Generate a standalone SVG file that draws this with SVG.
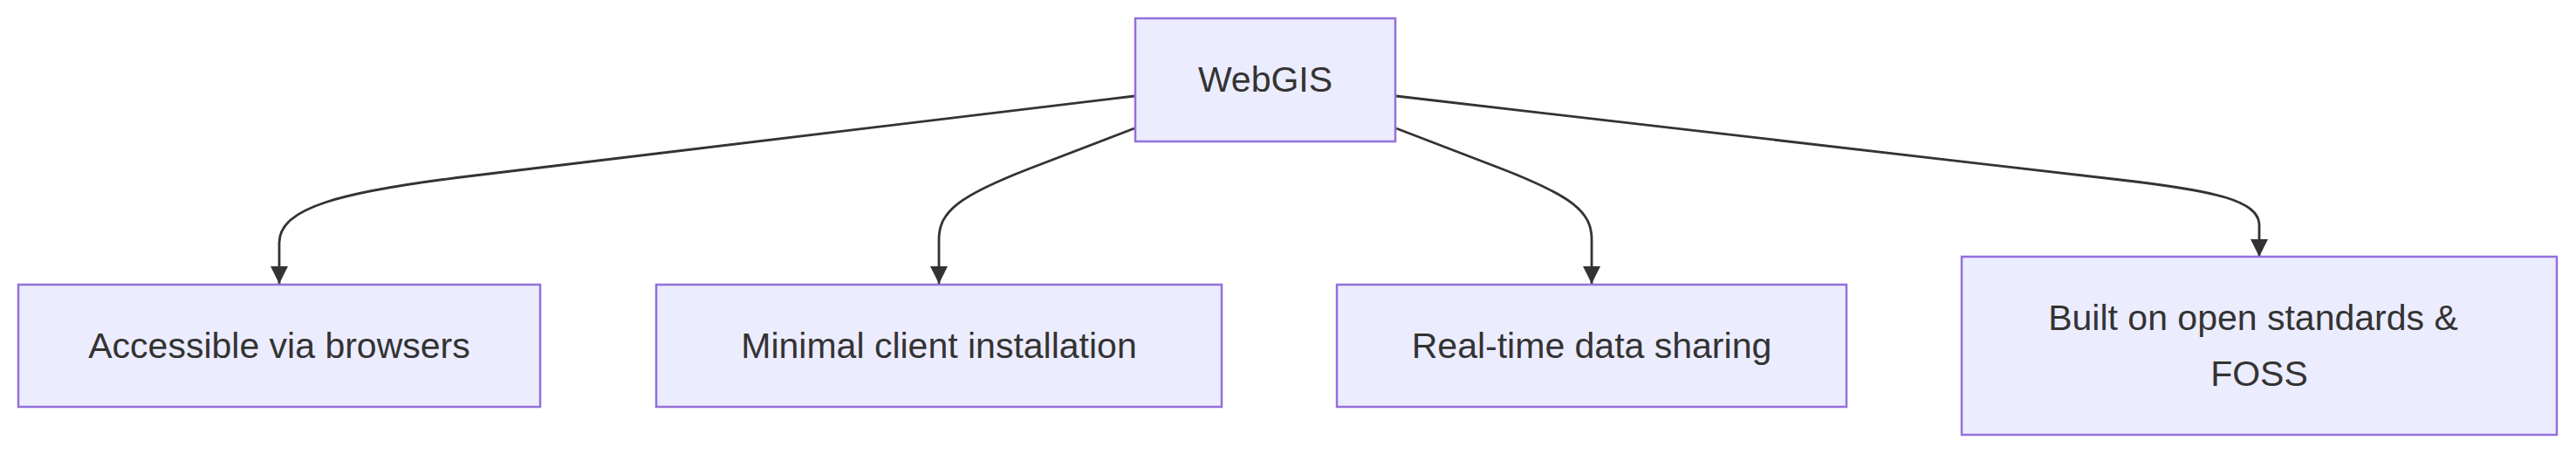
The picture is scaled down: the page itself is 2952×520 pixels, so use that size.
<svg xmlns="http://www.w3.org/2000/svg" width="2952" height="520" viewBox="0 0 2952 520">
<style>
.node rect{fill:#ECECFF;stroke:#9370DB;stroke-width:2.5}
.node text{font-family:"Liberation Sans",Arial,sans-serif;font-size:41px;fill:#333333;text-anchor:middle}
.edge{fill:none;stroke:#333333;stroke-width:2.8;marker-end:url(#arrow)}
</style>
<defs>
<marker id="arrow" viewBox="0 0 10 10" refX="10" refY="5" markerUnits="userSpaceOnUse" markerWidth="20" markerHeight="20" orient="auto">
<path d="M0,0 L10,5 L0,10 z" fill="#333333"/>
</marker>
</defs>
<rect width="2952" height="520" fill="#ffffff"/>
<g id="connectors">
<path class="edge" d="M1300,110 L540,201.5 C390,219.5 320,238 320,278 L320,325"/>
<path class="edge" d="M1300,147 L1180,193 C1100,224 1076,242 1076,274 L1076,325"/>
<path class="edge" d="M1600,147 L1720,193 C1800,224 1824,242 1824,274 L1824,325"/>
<path class="edge" d="M1600,110 L2430,206 C2540,218.7 2589,230 2589,258 L2589,294"/>
</g>
<g id="webgis" class="node">
<rect x="1301" y="21" width="298" height="141"/>
<text x="1450" y="105">WebGIS</text>
</g>
<g id="accessible" class="node">
<rect x="21" y="326" width="598" height="140"/>
<text x="320" y="410">Accessible via browsers</text>
</g>
<g id="minimal" class="node">
<rect x="752" y="326" width="648" height="140"/>
<text x="1076" y="410">Minimal client installation</text>
</g>
<g id="realtime" class="node">
<rect x="1532" y="326" width="584" height="140"/>
<text x="1824" y="410">Real-time data sharing</text>
</g>
<g id="foss" class="node">
<rect x="2248" y="294" width="682" height="204"/>
<text x="2582" y="378">Built on open standards &amp;</text>
<text x="2589" y="442">FOSS</text>
</g>
</svg>
